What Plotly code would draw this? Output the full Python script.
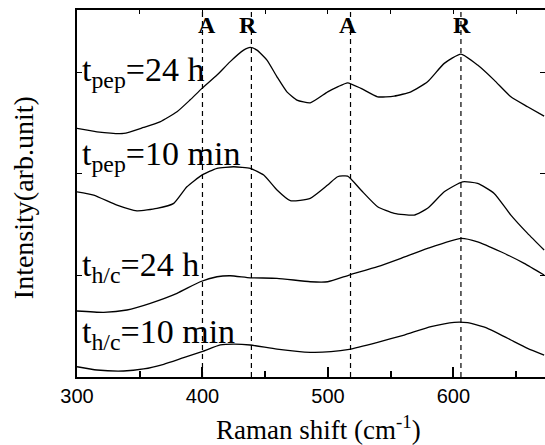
import plotly.graph_objects as go

# Raman shift positions (cm^-1) and intensities (arb. units, offset)
x_pep24 = [300.0, 315.9, 337.2, 353.1, 366.1, 379.7, 390.0, 399.6, 411.6, 421.9, 432.8, 438.1,
           443.4, 451.4, 459.4, 467.3, 475.3, 485.9, 499.8, 507.7, 515.7, 526.3, 539.6, 552.8,
           566.1, 579.4, 592.7, 606.0, 619.3, 632.5, 645.8, 659.1, 672.3]
y_pep24 = [2.445, 2.412, 2.396, 2.455, 2.510, 2.609, 2.724, 2.839, 2.970, 3.100, 3.215, 3.242,
           3.215, 3.117, 2.953, 2.805, 2.724, 2.697, 2.805, 2.854, 2.894, 2.839, 2.756, 2.763,
           2.805, 2.904, 3.085, 3.176, 3.068, 2.920, 2.756, 2.658, 2.566]

x_pep10 = [300.0, 313.3, 331.9, 347.8, 363.7, 377.1, 387.6, 399.6, 411.6, 424.9, 438.1, 448.8,
           459.4, 470.0, 485.9, 499.8, 507.7, 515.7, 526.3, 539.6, 552.8, 568.8, 579.4, 592.7,
           607.3, 619.3, 632.5, 645.8, 659.1, 672.3]
y_pep10 = [1.822, 1.790, 1.691, 1.635, 1.659, 1.708, 1.871, 1.986, 2.052, 2.068, 2.052, 1.986,
           1.839, 1.734, 1.757, 1.888, 1.970, 1.976, 1.839, 1.675, 1.610, 1.593, 1.659, 1.822,
           1.920, 1.905, 1.806, 1.593, 1.413, 1.249]

x_hc24 = [300.0, 321.3, 339.8, 358.4, 379.7, 398.2, 411.6, 422.2, 438.1, 459.4, 485.9, 499.8,
          517.0, 539.6, 558.2, 579.4, 606.0, 619.3, 637.8, 656.4, 672.3]
y_hc24 = [0.649, 0.636, 0.659, 0.725, 0.823, 0.937, 0.986, 0.996, 0.976, 0.971, 0.937, 0.937,
          1.003, 1.085, 1.167, 1.265, 1.364, 1.330, 1.232, 1.118, 1.003]

x_hc10 = [300.0, 315.9, 337.2, 353.1, 369.1, 385.0, 399.6, 414.2, 424.9, 438.1, 459.4, 485.9,
          502.4, 517.0, 539.6, 560.8, 582.1, 600.6, 611.3, 627.2, 645.8, 659.1, 672.3]
y_hc10 = [0.101, 0.069, 0.059, 0.079, 0.125, 0.190, 0.249, 0.315, 0.324, 0.315, 0.275, 0.243,
          0.249, 0.272, 0.341, 0.413, 0.495, 0.538, 0.534, 0.479, 0.364, 0.282, 0.216]

series = [
    ("t<sub>pep</sub>=24 h", x_pep24, y_pep24, 3.0),
    ("t<sub>pep</sub>=10 min", x_pep10, y_pep10, 2.17),
    ("t<sub>h/c</sub>=24 h", x_hc24, y_hc24, 1.085),
    ("t<sub>h/c</sub>=10 min", x_hc10, y_hc10, 0.42),
]

# phase marker lines: A = anatase, R = rutile
peak_pos = [400, 439, 518, 606]
peak_lab = ["A", "R", "A", "R"]
peak_lab_x = [404, 436.5, 516, 607]

x_ticks = [300, 400, 500, 600]
x_minor = [350, 450, 550, 650]
x_top_ticks = [300, 350, 400, 450, 500, 550, 600, 650]
y_ticks = [0, 1, 2, 3]

X_RANGE = [300, 673]
Y_RANGE = [0, 3.61]

SERIF = "Liberation Serif, Times New Roman, serif"
SANS = "Liberation Sans, Arial, sans-serif"

fig = go.Figure()
for name, xs, ys, _ in series:
    fig.add_trace(go.Scatter(x=xs, y=ys, mode="lines", name=name,
                             line=dict(color="black", width=1.3, shape="spline", smoothing=0.5),
                             showlegend=False, hoverinfo="skip"))
# empty trace to activate the top / right tick axes
fig.add_trace(go.Scatter(x=[None], y=[None], xaxis="x2", yaxis="y2", showlegend=False, hoverinfo="skip"))

for p in peak_pos:
    fig.add_shape(type="line", x0=p, x1=p, y0=0, y1=1, xref="x", yref="paper",
                  line=dict(color="black", width=1.2, dash="5px,4px"))

for lab, lx in zip(peak_lab, peak_lab_x):
    fig.add_annotation(x=lx, y=3.461, text="<b>" + lab + "</b>", showarrow=False,
                       xanchor="center", yanchor="middle",
                       font=dict(family=SERIF, size=24, color="black"))

for name, xs, ys, ly in series:
    fig.add_annotation(x=302.5, y=ly, text=name, showarrow=False, xanchor="left", yanchor="middle",
                       font=dict(family=SERIF, size=34, color="black"))

fig.add_annotation(xref="paper", yref="paper", x=-0.1154, y=0.49, text="Intensity(arb.unit)",
                   textangle=-90, showarrow=False, xanchor="center", yanchor="middle",
                   font=dict(family=SERIF, size=28, color="black"))
fig.add_annotation(xref="paper", yref="paper", x=0.515, y=-0.138, text="Raman shift (cm<sup>-1</sup>)",
                   showarrow=False, xanchor="center", yanchor="middle",
                   font=dict(family=SERIF, size=27, color="black"))

fig.update_layout(
    width=545, height=445,
    margin=dict(l=77, r=0, t=10, b=68),
    paper_bgcolor="white", plot_bgcolor="white",
    xaxis=dict(range=X_RANGE, tickvals=x_ticks, ticks="inside", ticklen=10, tickwidth=1.5,
               tickcolor="black", showline=True, linecolor="black", linewidth=2, mirror=True,
               showgrid=False, zeroline=False,
               tickfont=dict(family=SANS, size=20, color="black"),
               minor=dict(tickvals=x_minor, ticks="inside", ticklen=6, tickwidth=1.5, tickcolor="black")),
    xaxis2=dict(range=X_RANGE, overlaying="x", side="top", tickvals=x_top_ticks, ticks="inside",
                ticklen=4, tickwidth=1.2, tickcolor="black", showline=False,
                showticklabels=False, showgrid=False, zeroline=False),
    yaxis=dict(range=Y_RANGE, tickvals=y_ticks, ticks="inside", ticklen=5, tickwidth=1.2,
               tickcolor="black", showline=True, linecolor="black", linewidth=2,
               showticklabels=False, showgrid=False, zeroline=False),
    yaxis2=dict(range=Y_RANGE, overlaying="y", side="right", tickvals=y_ticks, ticks="inside",
                ticklen=5, tickwidth=1.2, tickcolor="black", showline=False,
                showticklabels=False, showgrid=False, zeroline=False),
)

fig.write_html("out.html", config={"displayModeBar": False},
               post_script="document.body.style.margin='0px';document.body.style.overflow='hidden';")
